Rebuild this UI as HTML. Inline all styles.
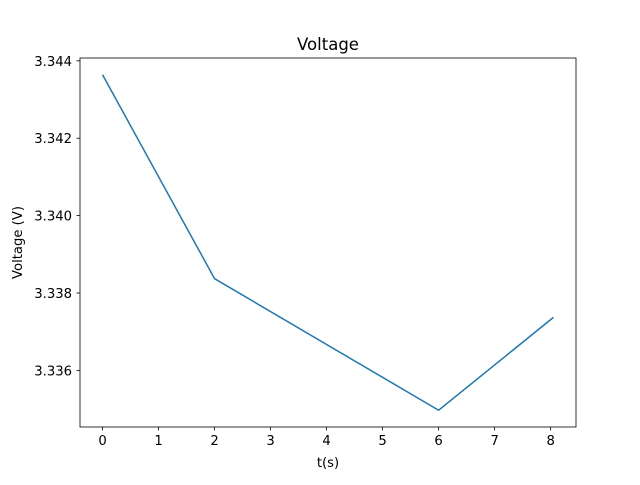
<!DOCTYPE html>
<html><head><meta charset="utf-8"><style>
body{margin:0;background:#fff;font-family:"Liberation Sans","DejaVu Sans",sans-serif}
svg text{font-family:"DejaVu Sans","Liberation Sans",sans-serif;fill:#000}
</style></head><body>
<svg id="chart" width="640" height="480">
<rect width="640" height="480" fill="#fff"/>
<text x="328" y="50" font-size="16.5" text-anchor="middle">Voltage</text>
<text x="328" y="467" font-size="13.2" text-anchor="middle">t(s)</text>
<text transform="translate(22,242.5) rotate(-90)" font-size="13.2" text-anchor="middle">Voltage (V)</text>
<g id="plot"></g>
</svg>
<script>
const times=[0,2,6,8.05];
const volts=[3.34364,3.33837,3.33497,3.33737];
const xTicks=[0,1,2,3,4,5,6,7,8];
const yTicks=[3.336,3.338,3.340,3.342,3.344];
const L=80,R=576,T=58,B=427;
const xmin=Math.min(...times),xmax=Math.max(...times),xm=(xmax-xmin)*0.05;
const ymin=Math.min(...volts),ymax=Math.max(...volts),ym=(ymax-ymin)*0.05;
const X=v=>L+(v-(xmin-xm))/((xmax+xm)-(xmin-xm))*(R-L);
const Y=v=>B-(v-(ymin-ym))/((ymax+ym)-(ymin-ym))*(B-T);
const NS="http://www.w3.org/2000/svg",g=document.getElementById('plot');
function mk(t,a){const e=document.createElementNS(NS,t);for(const k in a)e.setAttribute(k,a[k]);g.appendChild(e);return e;}
xTicks.forEach(v=>{const x=X(v);
const l=mk('line',{x1:x,x2:x,y1:B,y2:B+3.5,stroke:'#000','stroke-width':0.8});


const t=mk('text',{x:x,y:B+18,'font-size':13.2,'text-anchor':'middle'});t.textContent=v;

});
yTicks.forEach(v=>{const y=Y(v);
const l=mk('line',{x1:L-3.5,x2:L,y1:y,y2:y,stroke:'#000','stroke-width':0.8});


const t=mk('text',{x:L-8,y:y+5,'font-size':13.2,'text-anchor':'end'});t.textContent=v.toFixed(3);

});
const p=mk('polyline',{points:times.map((t,i)=>X(t)+','+Y(volts[i])).join(' '),fill:'none',stroke:'#1f77b4','stroke-width':1.5});


const f=mk('rect',{x:L,y:T,width:R-L,height:B-T,fill:'none',stroke:'#000','stroke-width':0.8});


</script>
</body></html>
